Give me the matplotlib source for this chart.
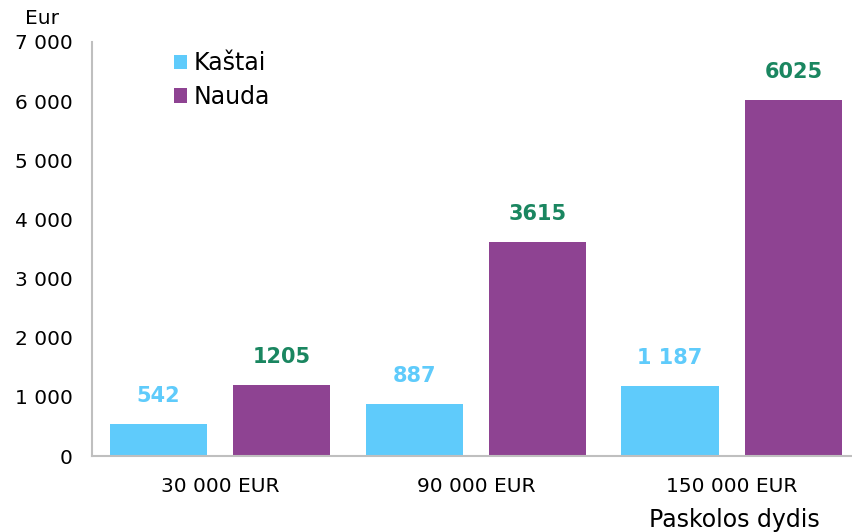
import numpy as np
import matplotlib
matplotlib.use("Agg")
import matplotlib.pyplot as plt
from matplotlib.ticker import FuncFormatter

# ------------ Data -----------------
groups = ["30 000 EUR", "90 000 EUR", "150 000 EUR"]
kastai = [542, 887, 1187]
nauda = [1205, 3615, 6025]
kastai_lbl = ["542", "887", "1 187"]
nauda_lbl = ["1205", "3615", "6025"]

# ------------ Style -----------------
BLUE = "#5FCBFB"
PURPLE = "#8E4392"
GREEN = "#1A8660"
SPINE = "#BFBFBF"
W = 0.379
OFF = 0.242

plt.rcParams['font.family'] = ['DejaVu Sans']

fig = plt.figure(figsize=(8.52, 5.32), dpi=100)
ax = fig.add_axes([92/852, 76/532, 760/852, 414/532])

x = np.arange(len(groups))
ax.bar(x - OFF, kastai, W, color=BLUE, label="Kaštai")
ax.bar(x + OFF, nauda, W, color=PURPLE, label="Nauda")

# value labels above bars
for xi, v, s in zip(x, kastai, kastai_lbl):
    ax.annotate(s, (xi - OFF, v), xytext=(0, 20), textcoords="offset points",
                ha="center", va="center", fontsize=15, fontweight="bold", color=BLUE)
for xi, v, s in zip(x, nauda, nauda_lbl):
    ax.annotate(s, (xi + OFF, v), xytext=(0, 20), textcoords="offset points",
                ha="center", va="center", fontsize=15, fontweight="bold", color=GREEN)

ax.set_xlim(-0.5, 2.469)
ax.set_ylim(0, 7000)
ax.set_yticks(np.arange(0, 7001, 1000))
ax.yaxis.set_major_formatter(FuncFormatter(lambda v, p: "{:,.0f}".format(v).replace(",", " ")))
ax.set_xticks(x)
ax.set_xticklabels(groups)
ax.tick_params(axis="y", length=0, pad=14, labelsize=14.5)
ax.tick_params(axis="x", length=0, pad=15, labelsize=14.5)

for side in ["top", "right"]:
    ax.spines[side].set_visible(False)
for side in ["left", "bottom"]:
    ax.spines[side].set_color(SPINE)
    ax.spines[side].set_linewidth(1.5)

ax.legend(loc="upper left", bbox_to_anchor=(174/852, 1 - 51/532), bbox_transform=fig.transFigure,
          frameon=False, fontsize=17, handlelength=0.55, handleheight=0.55,
          handletextpad=0.3, labelspacing=0.42, borderpad=0, borderaxespad=0)

fig.text(42/852, 1 - 18/532, "Eur", ha="center", va="center", fontsize=14.5)
fig.text(734/852, 1 - 520/532, "Paskolos dydis", ha="center", va="center", fontsize=17)

fig.savefig("out.png", dpi=100)
